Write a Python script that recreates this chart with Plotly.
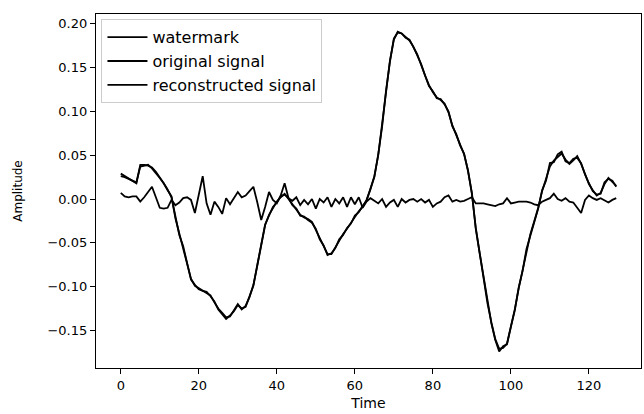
import plotly.graph_objects as go

# sample index (time axis)
time = list(range(128))

watermark = [
    0.007, 0.003, 0.002, 0.003, 0.003, -0.003, 0.002, 0.008, 0.014, 0.002,
    -0.010, -0.011, -0.010, -0.001, -0.007, -0.004, 0.001, 0.002, -0.001, -0.016,
    0.006, 0.026, -0.005, -0.018, -0.003, -0.009, -0.017, 0.001, -0.006, 0.001,
    0.008, 0.002, 0.004, 0.009, 0.014, -0.004, -0.024, -0.009, 0.008, -0.001,
    -0.005, 0.004, 0.018, 0.001, -0.002, 0.002, -0.007, -0.001, -0.006, 0.000,
    -0.011, 0.000, -0.004, 0.002, -0.009, 0.000, -0.005, 0.002, -0.009, 0.002,
    -0.006, 0.002, -0.010, -0.003, 0.001, -0.002, -0.005, 0.000, -0.009, -0.004,
    -0.001, -0.009, 0.000, -0.004, -0.001, 0.000, -0.003, 0.000, -0.004, -0.001,
    -0.009, -0.005, -0.003, 0.002, 0.004, -0.003, -0.001, -0.003, -0.002, 0.000,
    0.002, -0.005, -0.005, -0.005, -0.006, -0.007, -0.008, -0.006, -0.005, 0.001,
    -0.005, -0.004, -0.003, -0.003, -0.003, -0.004, -0.006, -0.007, -0.003, -0.001,
    0.001, 0.006, 0.000, -0.002, 0.001, -0.003, -0.004, -0.010, -0.016, -0.001,
    0.004, 0.001, -0.001, 0.001, -0.002, -0.004, -0.001, 0.001,
]

original_signal = [
    0.029, 0.026, 0.024, 0.021, 0.018, 0.039, 0.039, 0.038, 0.036, 0.031,
    0.025, 0.018, 0.010, 0.003, -0.022, -0.040, -0.055, -0.073, -0.091, -0.099,
    -0.102, -0.104, -0.107, -0.110, -0.118, -0.125, -0.130, -0.135, -0.134, -0.127,
    -0.120, -0.126, -0.122, -0.112, -0.098, -0.076, -0.052, -0.030, -0.018, -0.010,
    -0.003, 0.002, 0.006, 0.000, -0.006, -0.012, -0.018, -0.021, -0.023, -0.026,
    -0.035, -0.045, -0.054, -0.063, -0.063, -0.055, -0.047, -0.040, -0.034, -0.027,
    -0.020, -0.014, -0.009, -0.001, 0.011, 0.026, 0.050, 0.084, 0.123, 0.158,
    0.182, 0.191, 0.189, 0.185, 0.181, 0.174, 0.164, 0.154, 0.141, 0.130,
    0.122, 0.116, 0.113, 0.109, 0.099, 0.084, 0.073, 0.062, 0.051, 0.033,
    0.006, -0.033, -0.063, -0.088, -0.119, -0.141, -0.160, -0.171, -0.170, -0.165,
    -0.147, -0.126, -0.102, -0.081, -0.058, -0.040, -0.025, -0.010, 0.009, 0.022,
    0.037, 0.044, 0.048, 0.052, 0.045, 0.040, 0.044, 0.049, 0.040, 0.029,
    0.017, 0.010, 0.004, 0.007, 0.017, 0.024, 0.020, 0.015,
]

reconstructed_signal = [
    0.026, 0.025, 0.023, 0.021, 0.019, 0.037, 0.038, 0.039, 0.035, 0.030,
    0.024, 0.018, 0.011, 0.002, -0.021, -0.041, -0.054, -0.072, -0.092, -0.098,
    -0.103, -0.105, -0.106, -0.111, -0.117, -0.126, -0.131, -0.137, -0.133, -0.128,
    -0.121, -0.125, -0.123, -0.111, -0.099, -0.075, -0.053, -0.029, -0.019, -0.009,
    -0.004, 0.003, 0.005, 0.001, -0.007, -0.011, -0.019, -0.020, -0.024, -0.027,
    -0.034, -0.046, -0.053, -0.064, -0.062, -0.056, -0.046, -0.041, -0.033, -0.028,
    -0.019, -0.015, -0.008, -0.002, 0.012, 0.025, 0.051, 0.083, 0.124, 0.157,
    0.183, 0.190, 0.189, 0.184, 0.182, 0.173, 0.165, 0.153, 0.142, 0.129,
    0.123, 0.115, 0.114, 0.108, 0.100, 0.083, 0.074, 0.061, 0.052, 0.032,
    0.007, -0.034, -0.062, -0.089, -0.118, -0.142, -0.161, -0.174, -0.168, -0.166,
    -0.146, -0.127, -0.101, -0.082, -0.057, -0.041, -0.024, -0.011, 0.010, 0.021,
    0.041, 0.042, 0.051, 0.054, 0.043, 0.041, 0.046, 0.047, 0.041, 0.028,
    0.018, 0.009, 0.005, 0.006, 0.019, 0.023, 0.021, 0.014,
]

x_ticks = [0, 20, 40, 60, 80, 100, 120]
y_ticks = [-0.15, -0.10, -0.05, 0.00, 0.05, 0.10, 0.15, 0.20]

FONT = "DejaVu Sans"

fig = go.Figure()
for name, values in [
    ("watermark", watermark),
    ("original signal", original_signal),
    ("reconstructed signal", reconstructed_signal),
]:
    fig.add_trace(go.Scatter(
        x=time, y=values, mode="lines", name=name,
        line=dict(color="black", width=1.8),
    ))

axis_common = dict(
    showgrid=False, zeroline=False,
    showline=True, linecolor="black", linewidth=1.2, mirror=True,
    ticks="outside", ticklen=5, tickwidth=1.2, tickcolor="black",
    tickfont=dict(family=FONT, size=13, color="black"),
)

fig.update_layout(
    width=644, height=414,
    margin=dict(l=96, r=3, t=14, b=46),
    paper_bgcolor="white", plot_bgcolor="white",
    font=dict(family=FONT, color="black"),
    showlegend=True,
    legend=dict(
        x=0.01, y=0.985, xanchor="left", yanchor="top",
        bgcolor="rgba(255,255,255,0.8)", bordercolor="#cccccc", borderwidth=1,
        font=dict(family=FONT, size=16, color="black"),
        itemwidth=40, tracegroupgap=0,
    ),
    xaxis=dict(
        range=[-6.35, 133.35], tickvals=x_ticks,
        title=dict(text="Time", font=dict(family=FONT, size=14), standoff=6),
        **axis_common,
    ),
    yaxis=dict(
        range=[-0.1929, 0.2112], tickvals=y_ticks, tickformat=".2f",
        title=dict(text="Amplitude", font=dict(family=FONT, size=12), standoff=22),
        **axis_common,
    ),
)

fig.write_html("out.html")
